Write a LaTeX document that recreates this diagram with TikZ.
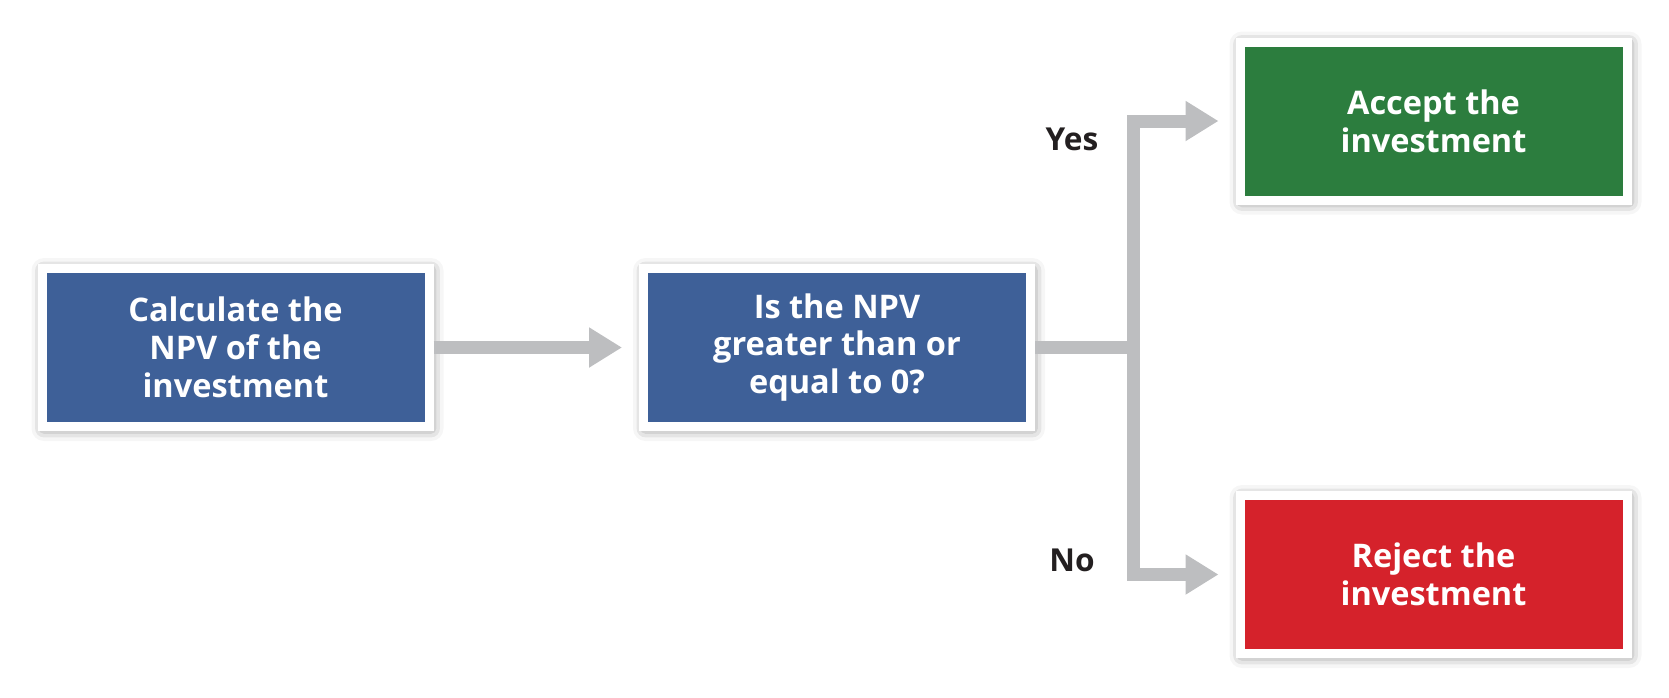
\documentclass[tikz,border=0pt]{standalone}
\usepackage{fontspec}
\setmainfont{Open Sans}
\usepackage{tikz}
\usetikzlibrary{arrows.meta}
\usetikzlibrary{shadows.blur}
\definecolor{stepblue}{HTML}{3E6098}
\definecolor{acceptgreen}{HTML}{2C7D3E}
\definecolor{rejectred}{HTML}{D5222B}
\definecolor{flowgray}{HTML}{BDBEC0}
\definecolor{labeldark}{HTML}{231F20}

\begin{document}
\begin{tikzpicture}[
        box/.style={draw=white, line width=0.18cm, minimum width=7.74cm, minimum height=3.16cm,
            align=center, text=white, font=\bfseries\fontsize{18.5}{21.5}\selectfont,
            blur shadow={shadow xshift=0.04cm, shadow yshift=-0.04cm, shadow blur radius=0.25cm, shadow opacity=55}},
        flow/.style={draw=flowgray, line width=0.26cm, line join=miter},
        arrow/.style={flow, -{Triangle[length=0.66cm, width=0.76cm]}, shorten >=0.34cm},
        answer/.style={text=labeldark, font=\bfseries\fontsize{18}{22}\selectfont}]
        \useasboundingbox (0,0) rectangle (33.38,-13.94);
        \node[box, fill=stepblue] (calc) at (4.71,-6.95) {Calculate the\\NPV of the\\investment};
        \node[box, fill=stepblue] (test) at (16.74,-6.95) {Is the NPV\\greater than or\\equal to 0?};
        \node[box, fill=acceptgreen] (acc) at (28.67,-2.42) {Accept the\\investment};
        \node[box, fill=rejectred] (rej) at (28.67,-11.49) {Reject the\\investment};
        \coordinate (split) at (22.66,-6.95);
        \node[answer] (yes) at (21.44,-2.78) {Yes};
        \node[answer] (no) at (21.44,-11.2) {No};
        \draw[arrow] (calc) -- (test);
        \draw[flow] (test.east) -- (split);
        \draw[arrow] (split) |- (acc.west);
        \draw[arrow] (split) |- (rej.west);
    \end{tikzpicture}
\end{document}
